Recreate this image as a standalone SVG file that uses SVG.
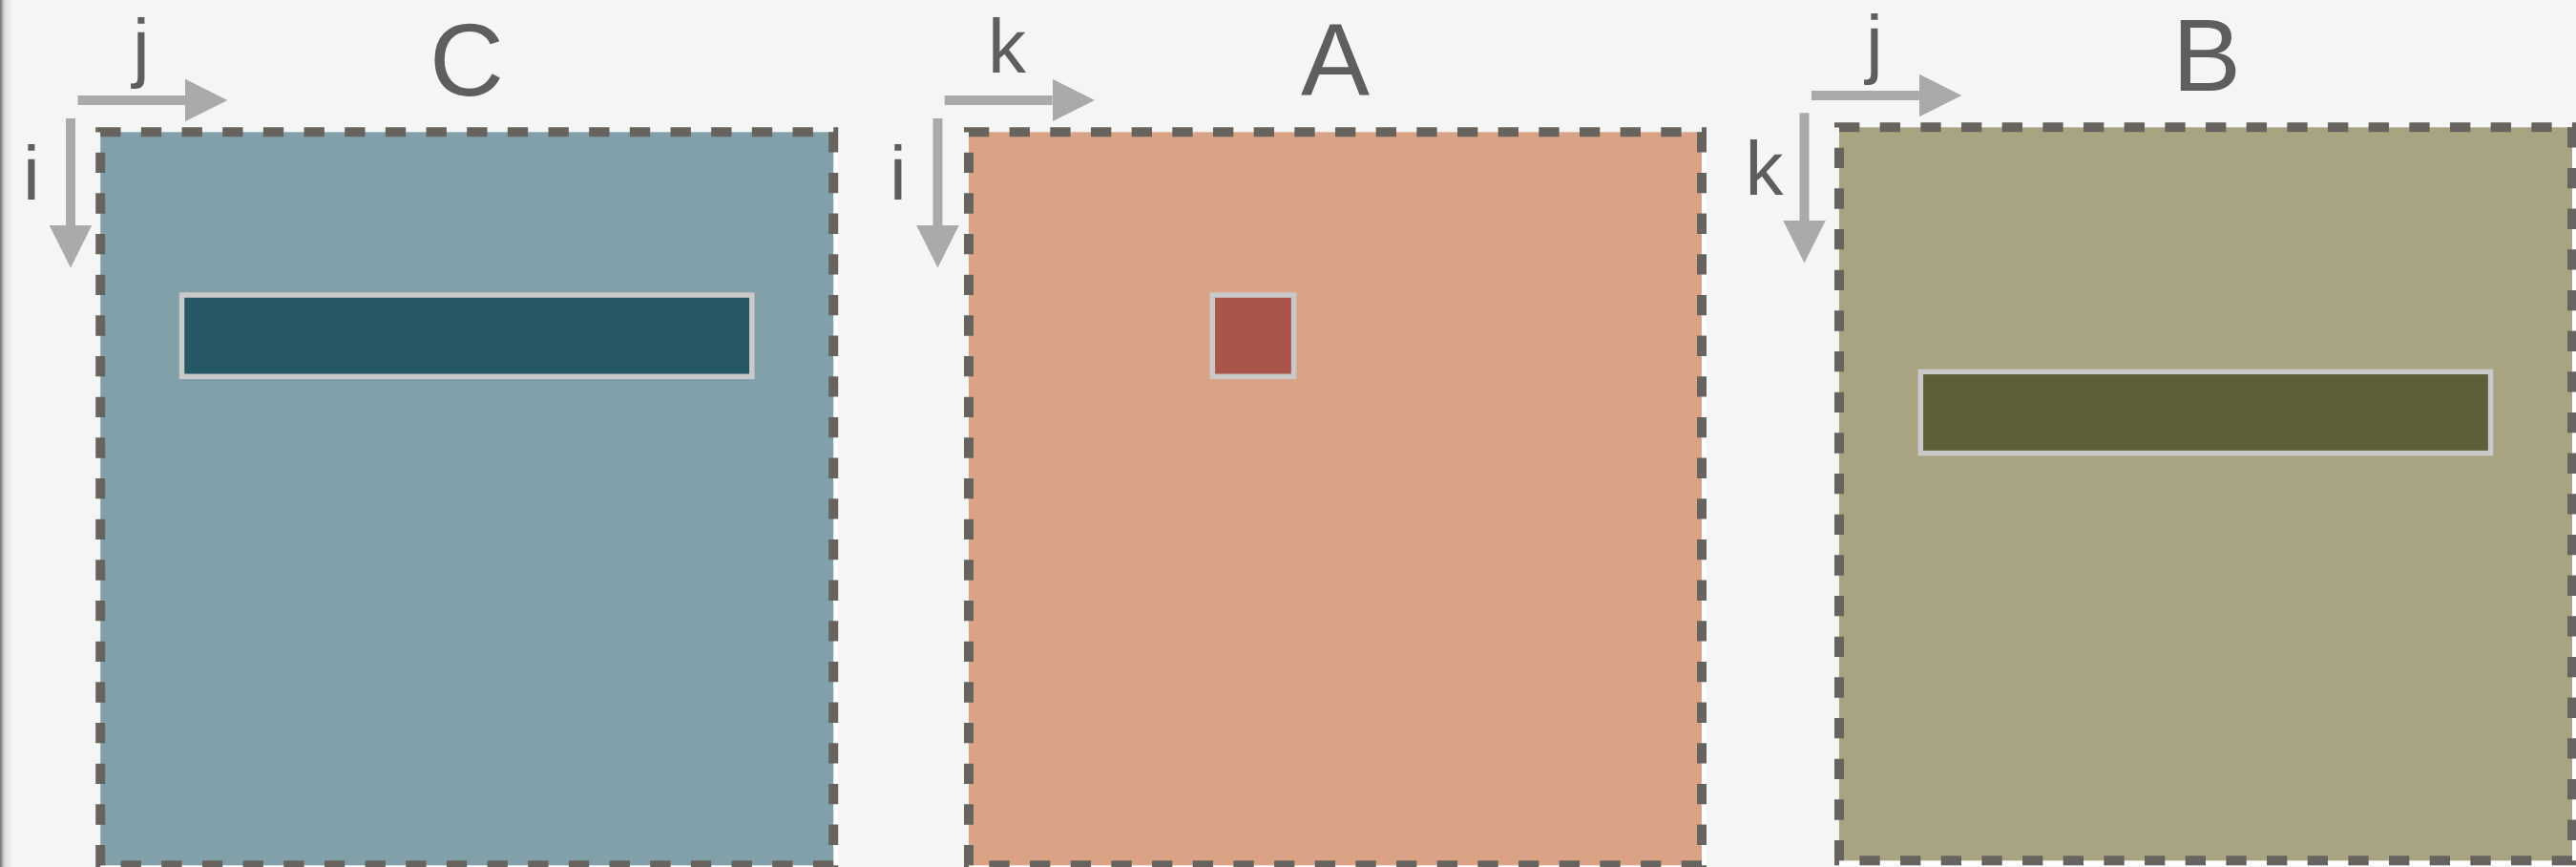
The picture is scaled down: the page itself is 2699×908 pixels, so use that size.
<svg xmlns="http://www.w3.org/2000/svg" width="2699" height="908" viewBox="0 0 2699 908">
  <style>
    .frame { stroke: #67635e; stroke-width: 10; stroke-dasharray: 21.333 21.333; fill: none; }
    .under { fill: #ffffff; }
    .cell { stroke: #c9c9c9; stroke-width: 5.5; }
    .ax { stroke: #aaaaaa; stroke-width: 10; fill: none; marker-end: url(#head); }
    .big { font-family: "Liberation Sans", Arial, sans-serif; font-size: 108px; fill: #5e5e5e; text-anchor: middle; }
    .idx { font-family: "Liberation Sans", Arial, sans-serif; font-size: 80px; fill: #5e5e5e; text-anchor: middle; }
  </style>
  <defs>
    <marker id="head" markerUnits="userSpaceOnUse" markerWidth="46" markerHeight="46" refX="0" refY="22.3" orient="auto" viewBox="0 0 46 46">
      <path d="M0,0 L44.4,22.3 L0,44.6 Z" fill="#aaaaaa"/>
    </marker>
    <linearGradient id="edge" x1="0" y1="0" x2="1" y2="0">
      <stop offset="0" stop-color="#6e6e6e"/>
      <stop offset="0.15" stop-color="#a2a2a2"/>
      <stop offset="0.35" stop-color="#dcdcdc"/>
      <stop offset="1" stop-color="#f4f6f5"/>
    </linearGradient>
  </defs>
  <rect x="0" y="0" width="2699" height="908" fill="#f4f6f5"/>
  <rect x="0" y="0" width="14" height="908" fill="url(#edge)"/>

  <g id="matrix-C">
    <rect class="under" x="105.2" y="138.3" width="773" height="773"/>
    <rect x="105.2" y="138.3" width="768" height="768" fill="#82a0aa"/>
    <rect class="frame" x="105.2" y="138.3" width="768" height="768"/>
    <rect class="cell" x="190.5" y="309" width="597.3" height="85.3" fill="#255764"/>
    <text class="big" x="489" y="100">C</text>
    <line class="ax" x1="81.5" y1="105" x2="194" y2="105"/>
    <line class="ax" x1="74" y1="124" x2="74" y2="236"/>
    <text class="idx" x="148" y="76">j</text>
    <text class="idx" x="33" y="209">i</text>
  </g>

  <g id="matrix-A">
    <rect class="under" x="1015" y="138.3" width="773" height="773"/>
    <rect x="1015" y="138.3" width="768" height="768" fill="#dba386"/>
    <rect class="frame" x="1015" y="138.3" width="768" height="768"/>
    <rect class="cell" x="1270.3" y="309" width="85.3" height="85.3" fill="#a9554a"/>
    <text class="big" x="1399" y="100">A</text>
    <line class="ax" x1="989.7" y1="105" x2="1102.6" y2="105"/>
    <line class="ax" x1="982.5" y1="124" x2="982.5" y2="236"/>
    <text class="idx" x="1055" y="76">k</text>
    <text class="idx" x="941" y="209">i</text>
  </g>

  <g id="matrix-B">
    <rect class="under" x="1927" y="133.3" width="773" height="773"/>
    <rect x="1927" y="133.3" width="768" height="768" fill="#a8a482"/>
    <rect class="frame" x="1927" y="133.3" width="768" height="768"/>
    <rect class="cell" x="2012.3" y="389.3" width="597.3" height="85.3" fill="#5d5f39"/>
    <text class="big" x="2312" y="94.7">B</text>
    <line class="ax" x1="1898" y1="100" x2="2010.9" y2="100"/>
    <line class="ax" x1="1890.5" y1="118.3" x2="1890.5" y2="231"/>
    <text class="idx" x="1964" y="71.5">j</text>
    <text class="idx" x="1848.5" y="204">k</text>
  </g>

  <g id="connectors"/>
</svg>
